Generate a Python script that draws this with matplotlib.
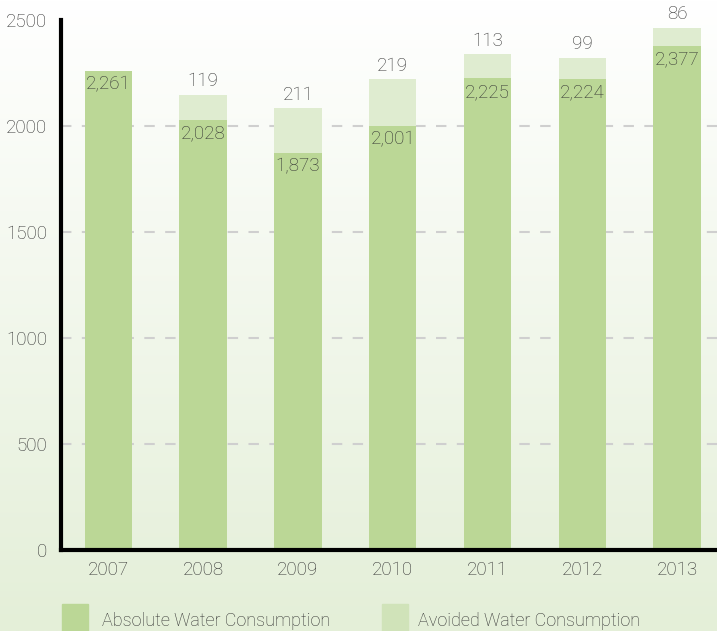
import numpy as np
import matplotlib.pyplot as plt
from matplotlib.patches import Rectangle

# Water consumption per year, with the amount avoided stacked on top
years = ["2007", "2008", "2009", "2010", "2011", "2012", "2013"]
absolute = [2261, 2028, 1873, 2001, 2225, 2224, 2377]
avoided = [0, 119, 211, 219, 113, 99, 86]
y_ticks = [0, 500, 1000, 1500, 2000, 2500]

DARK = "#bbd796"
LIGHT = "#dfecd0"
TEXT = "#333333"
FS = 13.5

plt.rcParams["font.family"] = ["Roboto", "DejaVu Sans"]
plt.rcParams["font.weight"] = "light"

fig = plt.figure(figsize=(7.17, 6.31), dpi=100)

# soft white-to-green backdrop
bg = fig.add_axes([0, 0, 1, 1], zorder=-10)
grad = np.linspace(0, 1, 256).reshape(-1, 1)
bg.imshow(np.dstack([
    1 - grad * (1 - 0xe4 / 255),
    1 - grad * (1 - 0xef / 255),
    1 - grad * (1 - 0xd8 / 255),
]), aspect="auto", extent=[0, 1, 0, 1], origin="upper")
bg.set_axis_off()

ax = fig.add_axes([61 / 717, 81 / 631, 656 / 717, 530 / 631])
ax.patch.set_alpha(0)

x = np.arange(len(years))
ax.bar(x, absolute, width=0.5, color=DARK, zorder=2)
ax.bar(x, avoided, width=0.5, bottom=absolute, color=LIGHT, zorder=2)

for i, (a, v) in enumerate(zip(absolute, avoided)):
    ax.text(i, a - 22, f"{a:,}", ha="center", va="top", fontsize=FS,
            color=TEXT, zorder=3)
    if v > 0:
        ax.text(i, a + v + 22, f"{v}", ha="center", va="bottom", fontsize=FS,
                color=TEXT, zorder=3, clip_on=False)

ax.set_xlim(-0.5, 6.42)
ax.set_ylim(0, 2500)
ax.set_yticks(y_ticks)
ax.set_xticks(x)
ax.set_xticklabels(years)
ax.tick_params(length=0, labelsize=FS, labelcolor=TEXT)
ax.tick_params(axis="y", pad=10)
ax.tick_params(axis="x", pad=8)

for yv in y_ticks[1:-1]:
    ax.axhline(yv, color="#cfcfcf", linestyle=(0, (5, 5)), linewidth=1.5, zorder=1)

for s in ["top", "right"]:
    ax.spines[s].set_visible(False)
ax.spines["left"].set_linewidth(3)
ax.spines["bottom"].set_linewidth(3)

# legend drawn as boxes along the bottom edge
fig.patches.append(Rectangle((62 / 717, 0), 26 / 717, 27 / 631,
                             transform=fig.transFigure, color=DARK))
fig.text(102 / 717, 10 / 631, "Absolute Water Consumption", fontsize=13,
         color=TEXT, va="center")
fig.patches.append(Rectangle((382 / 717, 0), 26 / 717, 27 / 631,
                             transform=fig.transFigure, color="#d0e3b9"))
fig.text(418 / 717, 10 / 631, "Avoided Water Consumption", fontsize=13,
         color=TEXT, va="center")

fig.savefig("out.png", dpi=100)
